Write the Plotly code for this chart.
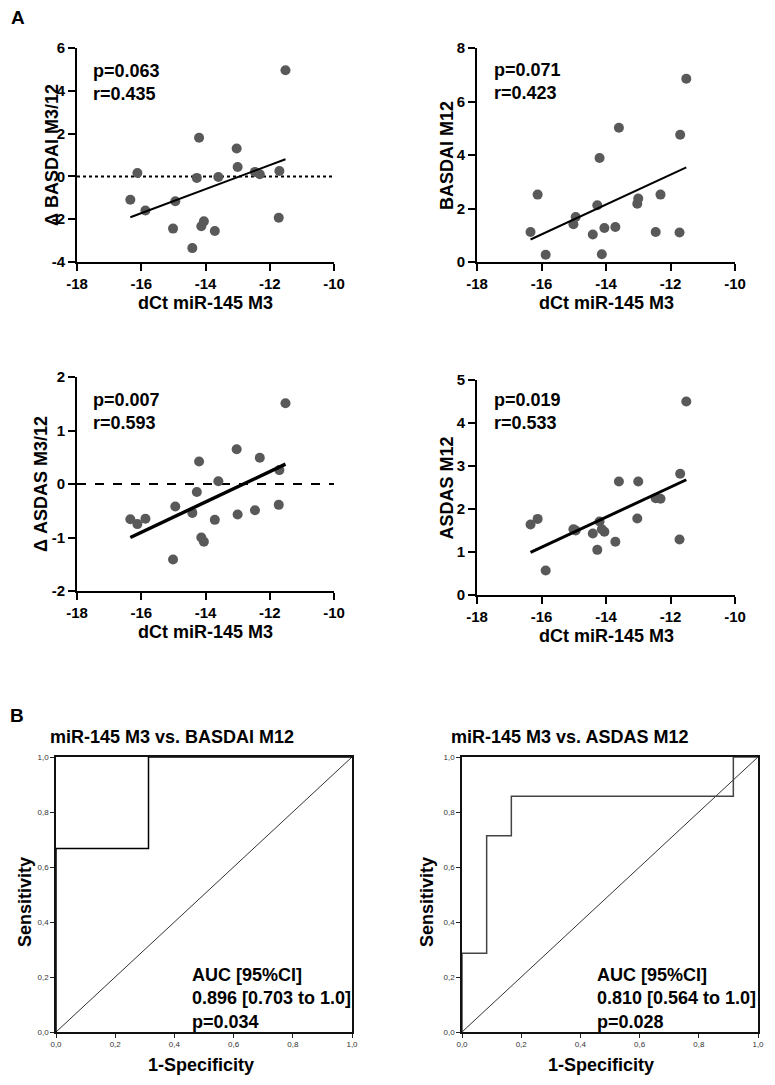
import plotly.graph_objects as go

# ---------------- data ----------------
dct_m3 = [-16.34, -16.12, -15.87, -15.01, -14.94, -14.41, -14.27, -14.20, -14.13,
          -14.05, -13.71, -13.60, -13.03, -13.00, -12.46, -12.31, -11.72, -11.70, -11.51]
d_basdai = [-1.09, 0.16, -1.59, -2.44, -1.16, -3.35, -0.07, 1.81, -2.33,
            -2.10, -2.55, -0.03, 1.30, 0.44, 0.21, 0.10, -1.93, 0.25, 4.96]
basdai_m12 = [1.12, 2.52, 0.27, 1.41, 1.68, 1.03, 2.12, 3.89, 0.29,
              1.27, 1.31, 5.02, 2.18, 2.37, 1.12, 2.52, 1.10, 4.76, 6.85]
d_asdas = [-0.66, -0.75, -0.65, -1.41, -0.42, -0.54, -0.15, 0.42, -1.00,
           -1.08, -0.67, 0.05, 0.65, -0.57, -0.49, 0.49, -0.39, 0.26, 1.51]
asdas_m12 = [1.64, 1.77, 0.57, 1.53, 1.50, 1.43, 1.05, 1.71, 1.53,
             1.47, 1.24, 2.64, 1.78, 2.64, 2.25, 2.24, 1.29, 2.82, 4.50]

# regression line end points
fit_x = [-16.34, -11.51]
fit_d_basdai = [-1.91, 0.80]
fit_basdai = [0.84, 3.54]
fit_d_asdas = [-1.00, 0.37]
fit_asdas = [0.99, 2.68]

stats_text = ["p=0.063<br>r=0.435", "p=0.071<br>r=0.423",
              "p=0.007<br>r=0.593", "p=0.019<br>r=0.533"]
y_titles = ["\u0394 BASDAI M3/12", "BASDAI M12", "\u0394 ASDAS M3/12", "ASDAS M12"]
x_title = "dCt miR-145 M3"

x_ticks = [-18, -16, -14, -12, -10]
y_ticks_list = [[-4, -2, 0, 2, 4, 6], [0, 2, 4, 6, 8], [-2, -1, 0, 1, 2], [0, 1, 2, 3, 4, 5]]

# ROC curves
roc1_fpr = [0.0, 0.0, 0.3125, 0.3125, 1.0]
roc1_tpr = [0.0, 0.667, 0.667, 1.0, 1.0]
roc2_fpr = [0.0, 0.0, 0.0833, 0.0833, 0.1667, 0.1667, 0.9167, 0.9167, 1.0]
roc2_tpr = [0.0, 0.286, 0.286, 0.714, 0.714, 0.857, 0.857, 1.0, 1.0]
roc_titles = ["miR-145 M3 vs. BASDAI M12", "miR-145 M3 vs. ASDAS M12"]
roc_text = ["AUC [95%CI]<br>0.896 [0.703 to 1.0]<br>p=0.034",
            "AUC [95%CI]<br>0.810 [0.564 to 1.0]<br>p=0.028"]
roc_ticks = [0.0, 0.2, 0.4, 0.6, 0.8, 1.0]
roc_ticktext = ["0,0", "0,2", "0,4", "0,6", "0,8", "1,0"]

# ---------------- layout helpers ----------------
W, H = 775, 1085
OFF = 8  # default page body margin
FONT = "Liberation Sans, Arial, sans-serif"
MARK = "#595959"


def px_x(p):
    return (p - OFF) / W


def px_y(p):
    return 1 - (p - OFF) / H


fig = go.Figure()

# panel pixel boxes: (left, right, top, bottom)
boxes = [(77, 334, 48, 262), (477, 735, 48, 262), (77, 334, 377, 591), (477, 735, 380, 595)]
yvals = [d_basdai, basdai_m12, d_asdas, asdas_m12]
fits = [fit_d_basdai, fit_basdai, fit_d_asdas, fit_asdas]
fit_w = [2, 2, 3.5, 3]
ref_dash = ["dot", None, "dash", None]
stats_pos = [(91, 82), (492, 81), (91, 411), (492, 411)]
ytitle_x = [52, 447, 41, 447]

layout = {}
for i in range(4):
    l, r, t, b = boxes[i]
    xa = "xaxis" if i == 0 else f"xaxis{i+1}"
    ya = "yaxis" if i == 0 else f"yaxis{i+1}"
    xr = "x" if i == 0 else f"x{i+1}"
    yr = "y" if i == 0 else f"y{i+1}"
    yt = y_ticks_list[i]
    axis_common = dict(showgrid=False, zeroline=False, showline=True, linecolor="black",
                       linewidth=2, ticks="outside", ticklen=7, tickwidth=2, tickcolor="black",
                       automargin=False,
                       tickfont=dict(family=FONT, size=15, color="black", weight="bold"))
    layout[xa] = dict(domain=[px_x(l), px_x(r)], anchor=yr, range=[-18, -10],
                      tickvals=x_ticks, ticktext=[str(v) for v in x_ticks],
                      **axis_common)
    layout[ya] = dict(domain=[px_y(b), px_y(t)], anchor=xr, range=[yt[0], yt[-1]],
                      tickvals=yt, ticktext=[str(v) for v in yt], **axis_common)
    if ref_dash[i]:
        fig.add_trace(go.Scatter(x=[-18, -10], y=[0, 0], mode="lines", xaxis=xr, yaxis=yr,
                                 line=dict(color="black", width=2, dash=ref_dash[i]),
                                 showlegend=False, hoverinfo="skip"))
    fig.add_trace(go.Scatter(x=dct_m3, y=yvals[i], mode="markers", xaxis=xr, yaxis=yr,
                             marker=dict(color=MARK, size=10, line=dict(width=0)),
                             showlegend=False, cliponaxis=False))
    fig.add_trace(go.Scatter(x=fit_x, y=fits[i], mode="lines", xaxis=xr, yaxis=yr,
                             line=dict(color="black", width=fit_w[i]), showlegend=False))

roc_boxes = [(56, 352, 757, 1032), (462, 758, 757, 1032)]
roc_data = [(roc1_fpr, roc1_tpr), (roc2_fpr, roc2_tpr)]
roc_line_col = ["black", "#444444"]
for j in range(2):
    i = 5 + j
    l, r, t, b = roc_boxes[j]
    xa, ya, xr, yr = f"xaxis{i}", f"yaxis{i}", f"x{i}", f"y{i}"
    axis_common = dict(showgrid=False, zeroline=False, showline=True, mirror=True,
                       linecolor="#111111", linewidth=1.5, ticks="outside", ticklen=4,
                       tickwidth=1, tickcolor="#222222", automargin=False,
                       tickvals=roc_ticks, ticktext=roc_ticktext,
                       tickfont=dict(family=FONT, size=8, color="#333333"))
    layout[xa] = dict(domain=[px_x(l), px_x(r)], anchor=yr, range=[0, 1], **axis_common)
    layout[ya] = dict(domain=[px_y(b), px_y(t)], anchor=xr, range=[0, 1], **axis_common)
    fig.add_trace(go.Scatter(x=[0, 1], y=[0, 1], mode="lines", xaxis=xr, yaxis=yr,
                             line=dict(color="#333333", width=1), showlegend=False))
    fx, fy = roc_data[j]
    fig.add_trace(go.Scatter(x=fx, y=fy, mode="lines", xaxis=xr, yaxis=yr,
                             line=dict(color=roc_line_col[j], width=1.5, shape="linear"),
                             showlegend=False, cliponaxis=False))

annotations = []
bold = dict(family=FONT, size=18, color="black", weight="bold")
# panel letters
annotations.append(dict(text="A", x=px_x(9), y=px_y(17), xref="paper", yref="paper",
                        xanchor="left", yanchor="middle", showarrow=False,
                        font=dict(family=FONT, size=19, color="black", weight="bold")))
annotations.append(dict(text="B", x=px_x(8), y=px_y(715), xref="paper", yref="paper",
                        xanchor="left", yanchor="middle", showarrow=False,
                        font=dict(family=FONT, size=19, color="black", weight="bold")))
for i in range(4):
    l, r, t, b = boxes[i]
    sx, sy = stats_pos[i]
    annotations.append(dict(text=stats_text[i], x=px_x(sx), y=px_y(sy), xref="paper", yref="paper",
                            xanchor="left", yanchor="middle", align="left", showarrow=False,
                            font=bold))
    annotations.append(dict(text=x_title, x=px_x((l + r) / 2), y=px_y(b + 41), xref="paper",
                            yref="paper", xanchor="center", yanchor="middle", showarrow=False,
                            font=bold))
    annotations.append(dict(text=y_titles[i], x=px_x(ytitle_x[i]), y=px_y((t + b) / 2),
                            xref="paper", yref="paper", xanchor="center", yanchor="middle",
                            textangle=-90, showarrow=False, font=bold))

roc_title_x = [172, 569]
roc_sens_x = [25, 427]
roc_spec_x = [201, 601]
roc_auc_x = [190, 595]
for j in range(2):
    annotations.append(dict(text=roc_titles[j], x=px_x(roc_title_x[j]), y=px_y(737), xref="paper",
                            yref="paper", xanchor="center", yanchor="middle", showarrow=False,
                            font=bold))
    annotations.append(dict(text="Sensitivity", x=px_x(roc_sens_x[j]), y=px_y(902), xref="paper",
                            yref="paper", xanchor="center", yanchor="middle", textangle=-90,
                            showarrow=False, font=bold))
    annotations.append(dict(text="1-Specificity", x=px_x(roc_spec_x[j]), y=px_y(1065), xref="paper",
                            yref="paper", xanchor="center", yanchor="middle", showarrow=False,
                            font=bold))
    annotations.append(dict(text=roc_text[j], x=px_x(roc_auc_x[j]), y=px_y(998), xref="paper",
                            yref="paper", xanchor="left", yanchor="middle", align="left",
                            showarrow=False, font=bold))

fig.update_layout(template="none", width=W, height=H,
                  margin=dict(l=0, r=0, t=0, b=0, pad=0, autoexpand=False),
                  paper_bgcolor="white", plot_bgcolor="white",
                  font=dict(family=FONT, color="black"), showlegend=False,
                  annotations=annotations, **layout)

fig.write_html("out.html")
